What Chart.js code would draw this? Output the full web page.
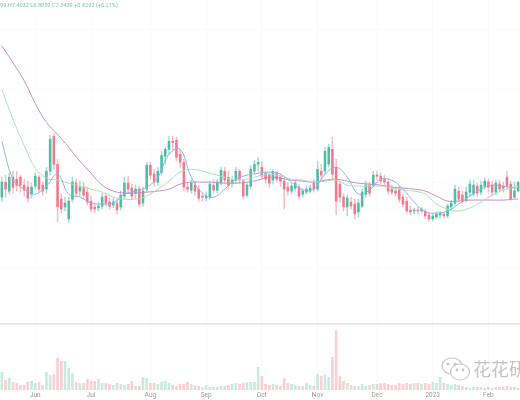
<!DOCTYPE html>
<html>
<head>
<meta charset="utf-8">
<script src="https://cdn.jsdelivr.net/npm/chart.js@4/dist/chart.umd.min.js"></script>
<style>
    html, body { margin: 0; padding: 0; background: #fff; overflow: hidden; }
    #wrap { position: relative; width: 520px; height: 400px; overflow: hidden; filter: blur(0.45px); }
    #legend { position: absolute; left: 0; top: 2px; font: 5.6px Roboto, sans-serif; color: #6cc7b4; white-space: nowrap; }
    #mark { position: absolute; left: 473px; top: 355px; font: 18px "Noto Sans CJK SC", sans-serif; color: #c4c4c4; white-space: nowrap; }
    #logo { position: absolute; left: 441px; top: 357px; }
</style>
</head>
<body>
<div id="wrap">
    <canvas id="chart" width="520" height="400"></canvas>
    <div id="legend">99 H7.4032 L6.8859 C7.3439 +0.4292 (+6.21%)</div>
    <svg id="logo" width="30" height="26" viewBox="0 0 30 26" fill="#fff" stroke="#c8c8c8" stroke-width="1.2">
        <ellipse cx="11" cy="9" rx="10" ry="8"/>
        <ellipse cx="19" cy="15" rx="9.5" ry="8"/>
        <circle cx="7" cy="7" r="1" fill="#c8c8c8"/>
        <circle cx="14" cy="7" r="1" fill="#c8c8c8"/>
        <circle cx="16" cy="13" r="0.8" fill="#c8c8c8"/>
        <circle cx="22" cy="13" r="0.8" fill="#c8c8c8"/>
    </svg>
    <div id="mark">花花研</div>
</div>
<script>
// Candle data, one candle every two days
const opens = [
    6.60, 7.35, 6.90, 7.60, 7.50, 7.60, 7.20, 7.10, 6.75, 7.15,
    7.60, 7.20, 7.00, 7.90, 9.65, 8.25, 6.50, 6.10, 5.50, 6.50,
    7.30, 6.90, 7.10, 6.85, 6.40, 6.10, 6.05, 6.15, 6.65, 6.35,
    6.20, 6.30, 6.10, 6.65, 7.30, 7.05, 6.80, 7.00, 6.30, 7.00,
    8.20, 7.75, 7.35, 7.85, 8.65, 9.00, 9.40, 9.45, 8.75, 8.35,
    7.10, 6.95, 7.20, 7.00, 6.65, 6.55, 6.60, 7.20, 6.95, 7.30,
    7.90, 7.60, 7.30, 7.45, 7.90, 7.40, 6.70, 7.15, 7.90, 8.25,
    8.10, 7.80, 7.70, 7.45, 7.80, 7.60, 7.40, 7.10, 6.90, 7.05,
    7.10, 6.75, 6.85, 6.90, 7.30, 7.00, 7.90, 7.90, 8.25, 9.00,
    8.10, 7.25, 6.60, 6.10, 6.35, 6.25, 5.85, 6.15, 6.75, 7.20,
    7.20, 7.70, 7.65, 7.50, 7.35, 7.00, 6.90, 7.00, 6.60, 6.40,
    5.95, 5.90, 5.95, 5.90, 5.90, 5.70, 5.50, 5.60, 5.70, 5.75,
    5.65, 6.10, 6.30, 6.90, 6.70, 6.45, 6.85, 6.75, 7.15, 6.85,
    7.15, 7.35, 7.20, 6.85, 7.25, 7.15, 7.60, 7.25, 6.60, 6.91
];
const closes = [
    7.35, 7.00, 7.60, 7.10, 7.20, 7.20, 6.95, 6.55, 7.10, 7.65,
    7.00, 6.90, 7.90, 9.50, 8.25, 6.10, 6.00, 6.30, 6.40, 7.35,
    6.80, 7.10, 6.70, 6.35, 6.00, 6.00, 6.15, 6.60, 6.30, 6.15,
    6.35, 5.95, 6.70, 7.30, 7.00, 6.65, 7.00, 6.25, 6.90, 8.20,
    7.70, 7.35, 7.90, 8.70, 9.00, 9.40, 9.35, 8.60, 8.35, 7.10,
    7.00, 7.30, 6.90, 6.55, 6.60, 6.65, 7.25, 6.95, 7.35, 7.95,
    7.45, 7.20, 7.45, 7.90, 7.50, 6.65, 7.20, 8.00, 8.25, 8.35,
    7.65, 7.50, 7.30, 7.90, 7.50, 7.40, 7.00, 6.90, 7.15, 7.30,
    6.65, 6.90, 7.00, 7.05, 7.00, 8.00, 7.70, 8.90, 9.10, 7.75,
    6.40, 6.60, 6.10, 6.55, 6.15, 5.75, 6.30, 6.85, 7.20, 6.80,
    7.70, 7.65, 7.40, 7.35, 6.90, 6.85, 6.80, 6.50, 6.25, 5.90,
    5.85, 5.95, 5.90, 6.00, 5.65, 5.50, 5.65, 5.75, 5.80, 5.65,
    6.15, 6.30, 7.00, 6.50, 6.40, 6.85, 7.25, 7.20, 6.80, 7.20,
    7.40, 7.10, 6.85, 7.30, 7.00, 7.05, 7.15, 6.50, 6.91, 7.34
];
const highs = [
    7.60, 7.70, 7.80, 7.90, 7.90, 7.70, 7.50, 7.40, 7.30, 7.80,
    7.70, 7.35, 8.10, 9.70, 9.80, 8.50, 6.75, 6.60, 6.60, 7.60,
    7.50, 7.40, 7.35, 7.10, 6.65, 6.30, 6.35, 6.80, 6.80, 6.55,
    6.55, 6.50, 6.90, 7.60, 7.65, 7.25, 7.20, 7.15, 7.10, 8.35,
    8.35, 8.00, 8.10, 8.90, 9.10, 9.65, 9.65, 9.60, 9.00, 8.50,
    7.30, 7.45, 7.40, 7.20, 6.80, 6.85, 7.40, 7.45, 7.50, 8.10,
    8.10, 7.90, 7.65, 8.10, 8.00, 7.50, 7.30, 8.20, 8.45, 8.60,
    8.40, 7.90, 7.80, 8.00, 7.90, 7.75, 7.55, 7.30, 7.30, 7.40,
    7.25, 7.05, 7.15, 7.20, 7.50, 8.40, 8.25, 9.10, 9.25, 9.60,
    8.50, 7.40, 6.75, 6.70, 6.60, 6.50, 6.50, 7.00, 7.40, 7.35,
    7.90, 7.90, 7.80, 7.70, 7.50, 7.20, 7.10, 7.15, 6.75, 6.60,
    6.15, 6.05, 6.10, 6.10, 6.00, 5.85, 5.80, 5.85, 5.90, 5.85,
    6.25, 6.45, 7.20, 7.10, 6.90, 7.10, 7.45, 7.45, 7.30, 7.40,
    7.55, 7.50, 7.40, 7.45, 7.45, 7.35, 7.90, 7.40, 7.35, 7.40
];
const lows = [
    6.40, 6.60, 6.75, 6.80, 6.90, 6.85, 6.65, 6.35, 6.55, 7.00,
    6.85, 6.70, 6.80, 7.70, 8.00, 5.35, 5.80, 5.90, 5.35, 6.35,
    6.60, 6.65, 6.50, 6.20, 5.85, 5.80, 5.90, 6.00, 6.15, 6.00,
    6.05, 5.75, 5.95, 6.50, 6.80, 6.50, 6.55, 6.10, 6.15, 6.85,
    7.50, 7.15, 7.20, 7.70, 8.25, 8.75, 9.00, 8.40, 8.10, 6.90,
    6.85, 6.80, 6.70, 6.40, 6.40, 6.40, 6.50, 6.80, 6.80, 7.20,
    7.30, 7.00, 7.10, 7.30, 7.30, 6.50, 6.60, 7.00, 7.75, 7.90,
    7.50, 7.30, 7.10, 7.25, 7.35, 7.15, 6.00, 6.70, 6.75, 6.90,
    6.50, 6.60, 6.75, 6.80, 6.85, 6.90, 7.50, 7.75, 8.10, 7.50,
    5.70, 6.35, 5.90, 5.65, 6.00, 5.50, 5.60, 6.05, 6.60, 6.65,
    7.10, 7.45, 7.25, 7.20, 6.75, 6.75, 6.65, 6.35, 6.10, 5.80,
    5.70, 5.75, 5.75, 5.80, 5.50, 5.40, 5.40, 5.50, 5.55, 5.55,
    5.55, 6.00, 6.20, 6.35, 6.30, 6.35, 6.65, 6.65, 6.65, 6.70,
    7.00, 6.85, 6.65, 6.70, 6.90, 6.85, 7.00, 6.45, 6.55, 6.89
];
const volumes = [
    18, 10, 12, 8, 7, 5, 5, 8, 9, 7,
    8, 5, 18, 15, 16, 32, 29, 29, 22, 17,
    8, 7, 7, 11, 9, 9, 11, 7, 7, 6,
    5, 7, 6, 5, 6, 9, 4, 4, 13, 12,
    7, 7, 6, 8, 9, 7, 5, 4, 6, 6,
    8, 6, 5, 4, 3, 5, 3, 3, 3, 4,
    4, 5, 6, 7, 6, 7, 8, 8, 8, 23,
    14, 6, 5, 6, 5, 4, 12, 7, 6, 5,
    4, 4, 7, 5, 4, 16, 14, 15, 13, 33,
    60, 14, 9, 7, 5, 4, 4, 6, 4, 5,
    6, 6, 7, 7, 6, 5, 5, 7, 6, 7,
    6, 7, 7, 6, 7, 6, 8, 7, 13, 7,
    6, 5, 6, 5, 4, 3, 2, 3, 3, 3,
    2, 3, 2, 3, 3, 3, 4, 3, 3, 2
];

// Moving averages, read every third candle plus the last one
const maFast = [
    9.40, 7.50, 7.00, 6.75, 7.15, 7.75, 6.75, 6.60, 6.30, 6.25,
    6.30, 6.75, 6.90, 7.10, 7.60, 8.75, 9.00, 7.60, 6.80, 6.60,
    7.00, 7.50, 7.70, 7.80, 7.85, 7.75, 7.35, 6.95, 7.00, 7.75,
    8.10, 7.60, 6.75, 6.95, 7.50, 7.45, 7.00, 6.35, 5.85, 5.80,
    5.90, 6.25, 6.65, 7.00, 7.20, 7.15, 7.05, 7.05
];
const maMid = [
    12.00, 10.50, 9.20, 8.05, 7.55, 7.45, 7.30, 7.15, 7.00, 6.85,
    6.60, 6.50, 6.50, 6.65, 7.00, 7.40, 7.85, 8.00, 7.90, 7.75,
    7.60, 7.45, 7.50, 7.65, 7.75, 7.65, 7.50, 7.45, 7.35, 7.40,
    7.45, 7.20, 7.15, 7.15, 7.15, 7.05, 6.95, 6.90, 6.75, 6.25,
    6.00, 5.90, 6.05, 6.35, 6.70, 6.95, 7.10, 7.15
];
const maSlow = [
    14.20, 13.35, 12.45, 11.30, 10.35, 9.75, 9.10, 8.40, 7.80, 7.20,
    6.90, 6.80, 6.80, 6.85, 6.90, 7.00, 7.25, 7.35, 7.35, 7.35,
    7.30, 7.30, 7.35, 7.45, 7.60, 7.55, 7.45, 7.40, 7.35, 7.45,
    7.50, 7.40, 7.30, 7.25, 7.20, 7.10, 7.05, 7.00, 6.90, 6.65,
    6.40, 6.40, 6.45, 6.45, 6.45, 6.45, 6.50, 6.50
];

const monthIndex = [9, 24, 40, 55, 70, 85, 101, 116, 131];
const monthNames = ['Jun', 'Jul', 'Aug', 'Sep', 'Oct', 'Nov', 'Dec', '2023', 'Feb'];
const priceLevels = [3, 6, 9, 12, 15];
const lastClose = closes[closes.length - 1];

const labels = opens.map((_, i) => {
    const m = monthIndex.indexOf(i);
    return m >= 0 ? monthNames[m] : '';
});

const upColor = '#4dbea6';
const downColor = '#f5798d';
const isUp = opens.map((o, i) => closes[i] >= o);

// Put the sampled average back on its candle, gaps are bridged by spanGaps
const onCandles = (values) => labels.map((_, i) => {
    if (i === labels.length - 1) return values[values.length - 1];
    return i % 3 === 0 ? values[i / 3] : null;
});

const maLine = (values, color) => ({
    type: 'line',
    data: onCandles(values),
    borderColor: color,
    borderWidth: 1,
    pointRadius: 0,
    tension: 0.4,
    spanGaps: true,
    yAxisID: 'y',
    order: 1
});

new Chart(document.getElementById('chart'), {
    type: 'bar',
    data: {
        labels: labels,
        datasets: [
            maLine(maFast, '#8db5e6'),
            maLine(maMid, '#a9e2bb'),
            maLine(maSlow, '#c98dbd'),
            {
                // Last price line
                type: 'line',
                data: labels.map(() => lastClose),
                borderColor: '#e4f2ee',
                borderWidth: 0.7,
                borderDash: [2, 2],
                pointRadius: 0,
                yAxisID: 'y',
                order: 5
            },
            {
                // Bodies
                data: opens.map((o, i) => [o, closes[i]]),
                backgroundColor: isUp.map(u => u ? upColor : downColor),
                barThickness: 1.9,
                grouped: false,
                yAxisID: 'y',
                order: 2
            },
            {
                // Wicks
                data: lows.map((l, i) => [l, highs[i]]),
                backgroundColor: isUp.map(u => u ? '#a3dccf' : '#f9b9c4'),
                barThickness: 0.8,
                grouped: false,
                yAxisID: 'y',
                order: 3
            },
            {
                data: volumes,
                backgroundColor: isUp.map(u => u ? '#c6ecdf' : '#fccfd3'),
                barThickness: 2,
                grouped: false,
                yAxisID: 'vol',
                order: 4
            }
        ]
    },
    options: {
        responsive: false,
        animation: false,
        layout: { padding: 0 },
        plugins: { legend: { display: false }, tooltip: { enabled: false } },
        scales: {
            x: {
                afterBuildTicks: (scale) => { scale.ticks = monthIndex.map(i => ({ value: i })); },
                grid: { color: '#f9f9f9', offset: false, drawTicks: false },
                border: { display: false },
                ticks: { autoSkip: false, maxRotation: 0, padding: 1, color: '#9a9a9a', font: { size: 6.5, family: 'Roboto' } }
            },
            y: {
                position: 'left',
                min: -3.1,
                max: 16.5,
                afterBuildTicks: (scale) => { scale.ticks = priceLevels.map(v => ({ value: v })); },
                grid: { color: '#fafafa', drawTicks: false },
                border: { display: false },
                ticks: { display: false }
            },
            vol: {
                // Volume sits in the lower pane, its top tick is the pane divider
                position: 'right',
                min: 0,
                max: 392,
                afterBuildTicks: (scale) => { scale.ticks = [{ value: 67 }]; },
                grid: { color: '#e2e2e2', lineWidth: 1.5, drawTicks: false },
                border: { display: false },
                ticks: { display: false }
            }
        }
    }
});
</script>
</body>
</html>
